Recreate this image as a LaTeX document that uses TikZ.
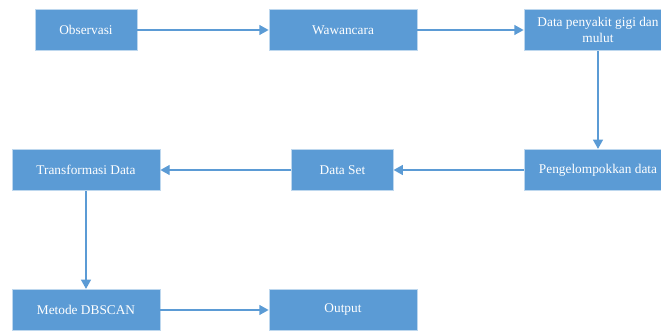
\documentclass[tikz,border=0pt]{standalone}
\usepackage{fontspec}
\setmainfont{Liberation Serif}
\usetikzlibrary{arrows.meta,shadows}

\definecolor{boxblue}{RGB}{91,155,213}
\definecolor{boxline}{RGB}{189,215,238}

\tikzset{
    stepbox/.style={draw=boxline, line width=0.6pt, fill=boxblue, text=white,
        minimum width=111pt, minimum height=31pt, inner sep=2pt, align=center,
        font=\fontsize{10}{12.5}\selectfont,
        drop shadow={opacity=0.2, shadow xshift=0.6pt, shadow yshift=-0.6pt}},
    flow/.style={draw=boxblue, line width=1.1pt, -{Triangle[length=7pt,width=7.5pt]}}
}

\begin{document}
\begin{tikzpicture}[x=0.75pt,y=-0.75pt]
            \useasboundingbox (0,0) rectangle (661,331);
            \clip (0,0) rectangle (661,331);

            % Top row
            \node[stepbox,minimum width=76.5pt] (obs) at (86,30) {Observasi};
            \node[stepbox] (waw) at (343,30) {Wawancara};
            \node[stepbox] (datagm) at (598,30) {Data penyakit gigi dan\\mulut};

            % Middle row
            \node[stepbox] (kelompok) at (598,170) {Pengelompokkan data};
            \node[stepbox,minimum width=76pt] (dataset) at (342.5,170) {Data Set};
            \node[stepbox] (transform) at (86,170) {Transformasi Data};

            % Bottom row
            \node[stepbox] (dbscan) at (86,310) {Metode DBSCAN};
            \node[stepbox] (output) at (343,310) {Output};

            % Arrows
            \draw[flow] (obs) -- (waw);
            \draw[flow] (waw) -- (datagm);
            \draw[flow] (datagm) -- (kelompok);
            \draw[flow] (kelompok) -- (dataset);
            \draw[flow] (dataset) -- (transform);
            \draw[flow] (transform) -- (dbscan);
            \draw[flow] (dbscan) -- (output);
        \end{tikzpicture}
\end{document}
